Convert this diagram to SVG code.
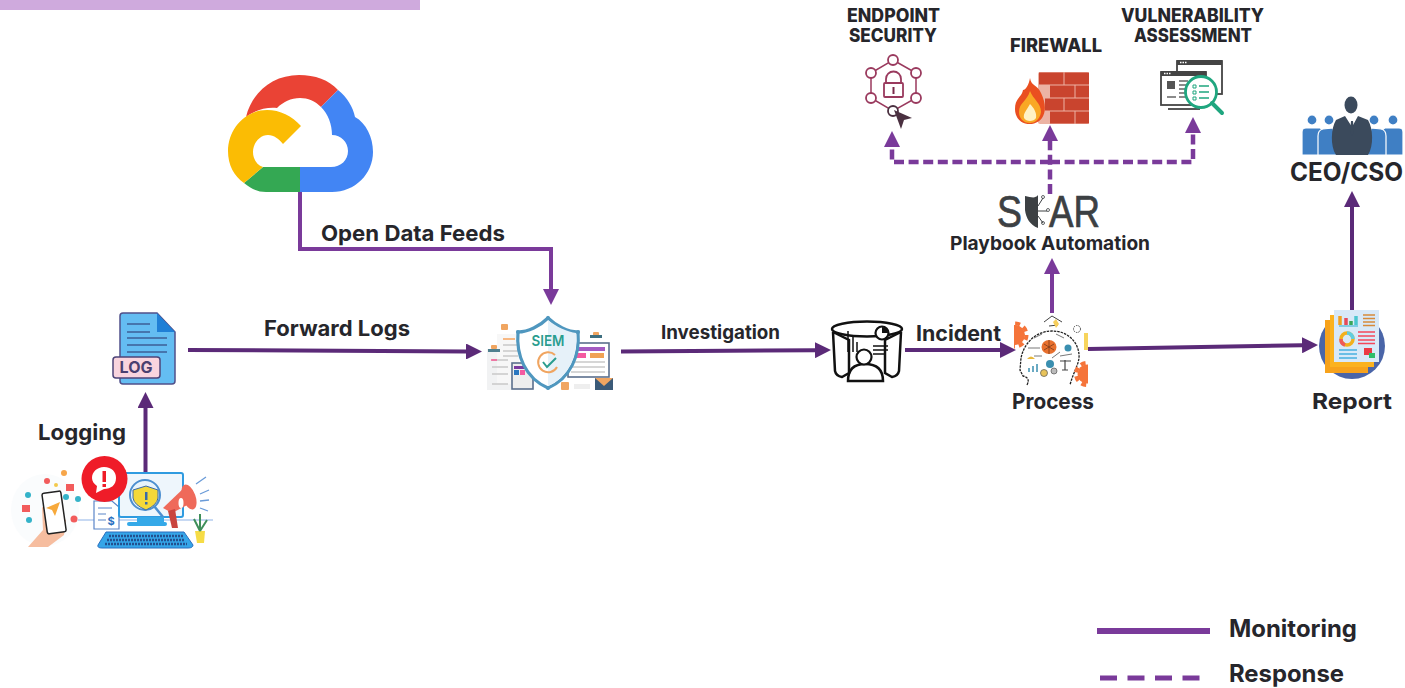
<svg xmlns="http://www.w3.org/2000/svg" width="1405" height="688" viewBox="0 0 1405 688">
<style>
text{font-family:"Inter","Noto Sans","Liberation Sans",sans-serif;font-weight:700;fill:#26262b}
.m{fill:none;stroke:#5b2a78;stroke-width:4}
.p{fill:none;stroke:#7a3a9a;stroke-width:4}
.d{fill:none;stroke:#7a3a9a;stroke-width:4.500;stroke-dasharray:10 4.600}
.blk{fill:none;stroke:#111;stroke-width:2.500}
.gl{stroke:#c9c9c9;stroke-width:1.400;fill:none}
.gear{fill:none;stroke:#f5743a;stroke-width:4;stroke-dasharray:5 4}
.logo{font-family:"Liberation Sans",sans-serif;font-weight:400;fill:#3c4043;stroke:#3c4043;stroke-width:.7}
</style>
<defs>
<marker id="hm" markerUnits="userSpaceOnUse" markerWidth="16" markerHeight="16" viewBox="0 0 15 15" refX="0" refY="7.500" orient="auto"><polygon points="0,0 15,7.500 0,15" fill="#5b2a78"/></marker>
<marker id="hp" markerUnits="userSpaceOnUse" markerWidth="16" markerHeight="16" viewBox="0 0 15 15" refX="0" refY="7.500" orient="auto"><polygon points="0,0 15,7.500 0,15" fill="#7a3a9a"/></marker>
<clipPath id="pc"><rect x="1014" y="310" width="74" height="80"/></clipPath>
</defs>
<rect id="top-bar" x="0" y="0" width="420" height="10" fill="#cfaadd"/>

<g id="connectors">
<path class="m" d="M145.500 473V408" marker-end="url(#hm)"/>
<path class="m" d="M188 350L466 351.500" marker-end="url(#hm)"/>
<path class="p" d="M300 192V249H551V289" marker-end="url(#hp)"/>
<path class="m" d="M621 351.500L815 350.200" marker-end="url(#hm)"/>
<path class="m" d="M905 350H1000" marker-end="url(#hm)"/>
<path class="m" d="M1088 349L1302 345.300" marker-end="url(#hm)"/>
<path class="p" d="M1052 313V274" marker-end="url(#hp)"/>
<path class="m" d="M1352 310V207" marker-end="url(#hm)"/>
<path class="d" d="M1050 194V141" marker-end="url(#hp)"/>
<path class="d" d="M1050 162H892V147" marker-end="url(#hp)"/>
<path class="d" d="M1050 162H1193V133" marker-end="url(#hp)"/>
</g>

<g id="node-cloud">
<path fill="#ea4335" d="M246 117C252 92 273 75 299 75C315 75 329 80 338 90L321 107C315 101 308 98 300 98C291 98 283 102 277 108C266 107 255 110 246 117Z"/>
<path fill="#4285f4" d="M338 90C347 97 353 107 355 117C366 123 373 137 373 152C373 174 355 192 332 192H300V167H331C341 167 348 160 348 151C348 142 341 135 332 135C332 124 328 114 321 107Z"/>
<path fill="#34a853" d="M300 167H263L244 183C251 189 258 192 266 192H300Z"/>
<path fill="#fbbc04" d="M301 126C292 116 280 110 267 110C245 110 228 129 228 151C228 165 234 176 244 183L263 167C257 165 253 159 253 152C253 143 260 135 268 135C274 135 279 139 283 144Z"/>
<text x="321" y="241" font-size="22" textLength="184" lengthAdjust="spacingAndGlyphs">Open Data Feeds</text>
</g>

<g id="node-log">
<path d="M120 316Q120 313 123 313H157L175 332V381Q175 384 172 384H123Q120 384 120 381Z" fill="#64bdf2" stroke="#50508a" stroke-width="1.500"/>
<path d="M157 313L175 332H157Z" fill="#1f7fd6"/>
<path d="M127 324H150M127 332H150M127 338H167M127 345H167M127 352H167" stroke="#3d5f96" stroke-width="1.500"/>
<rect x="113" y="357" width="47" height="21" rx="3" fill="#f9d4de" stroke="#4d4478" stroke-width="1.500"/>
<text x="136" y="373" font-size="16" text-anchor="middle" style="fill:#4a4070">LOG</text>
<text x="264" y="336" font-size="21" textLength="146" lengthAdjust="spacingAndGlyphs">Forward Logs</text>
</g>

<g id="node-logging">
<ellipse cx="45" cy="510" rx="34" ry="36" fill="#fafcfd"/>
<path d="M78 520H213" stroke="#8fb4e8" stroke-width="1.200"/>
<g fill="#f25c5c"><circle cx="47" cy="481" r="3"/><rect x="22" y="505" width="8" height="7"/><circle cx="74" cy="519" r="3.500"/><rect x="66" y="484" width="8" height="7"/></g>
<g fill="#34b3c9"><circle cx="28" cy="495" r="3"/><circle cx="29" cy="520" r="3"/><circle cx="66" cy="497" r="3"/><circle cx="78" cy="499" r="3"/></g>
<circle cx="64" cy="473" r="3" fill="#f7a64a"/><circle cx="56" cy="485" r="2" fill="#f2c94c"/>
<path d="M28 547L43 530L42 507L66 520L64 535L48 547Z" fill="#f6bd9f"/>
<rect x="44.500" y="492" width="19" height="41" rx="2" fill="#fff" stroke="#222" stroke-width="1.500" transform="rotate(-8 54 512)"/>
<path d="M46 508L60 502L55 516L52 510Z" fill="#f7a93b"/>
<path d="M94 501H112L119 507V529H94Z" fill="#fff" stroke="#5b85c8" stroke-width="1.200"/>
<path d="M98 508H112M98 514H106M98 520H106" stroke="#5b85c8" stroke-width="1"/>
<text x="111" y="525" font-size="11" text-anchor="middle" style="fill:#2a6fc0">$</text>
<rect x="119" y="473" width="64" height="44" rx="2" fill="#eef6fc" stroke="#2f9be0" stroke-width="2"/>
<rect x="137" y="517" width="27" height="5" fill="#35a9e8"/><rect x="127" y="522" width="40" height="4" rx="2" fill="#35a9e8"/>
<circle cx="145" cy="495" r="15" fill="#e8f4fc" stroke="#4c8fd0" stroke-width="2"/>
<path d="M154 506L163 517" stroke="#4c8fd0" stroke-width="2.500"/>
<path d="M146 486L158 490V498Q157 505 146 510Q134 505 133 498V490Z" fill="#f4d83a" stroke="#3a6aa8" stroke-width="1"/>
<rect x="145" y="492" width="2.500" height="8" fill="#3a6aa8"/><rect x="145" y="502" width="2.500" height="2.500" fill="#3a6aa8"/>
<path d="M163 508L186 486L193 502L172 513Z" fill="#ef6a5a"/>
<ellipse cx="189" cy="497" rx="6.500" ry="13" transform="rotate(-20 189 497)" fill="#ef6a5a"/>
<ellipse cx="181" cy="503" rx="2.500" ry="5" fill="#fff"/>
<path d="M168 511L172 528H178L175 509Z" fill="#c9453f"/>
<path d="M196 484L206 477M200 494L209 490M200 501L209 500M200 508L208 511" stroke="#6a9bd8" stroke-width="1.300"/>
<path d="M195 531L205 531L204 543H197Z" fill="#f6dc46"/>
<path d="M200 531L194 519M200 531L200 514M200 531L207 520" stroke="#3f8f5a" stroke-width="2"/>
<path d="M106 532H184L193 545Q193 548 188 548H102Q97 548 98 545Z" fill="#35a5e8" stroke="#2a6fc0"/>
<path d="M109 536H183M107 540H185M105 544H187" stroke="#24508f" stroke-width="2.500" stroke-dasharray="2 1"/>
<circle cx="104.500" cy="479" r="23" fill="#ef1c28"/>
<path d="M104 467C112 467 116 472 116 478C116 485 111 489 104 489L96 493L97 486C94 484 92 481 92 478C92 472 97 467 104 467Z" fill="#fff"/>
<rect x="102.500" y="471" width="3.500" height="11" fill="#ef1c28"/><rect x="102.500" y="484" width="3.500" height="3" fill="#ef1c28"/>
<text x="38" y="440" font-size="22" textLength="88" lengthAdjust="spacingAndGlyphs">Logging</text>
</g>

<g id="node-siem">
<rect x="487" y="349" width="24" height="41" fill="#f1f2f3"/>
<rect x="497" y="334" width="22" height="50" fill="#f7f7f7"/>
<path class="gl" d="M492 360H508M492 367H508M492 374H508M492 384H508M503 345H518M503 351H518M503 356H518"/>
<path d="M503 339H515" stroke="#f7a35c" stroke-width="1.500"/><path d="M491 360H497" stroke="#f45a94" stroke-width="1.500"/>
<rect x="488" y="349" width="12" height="3" fill="#4f7f8f"/>
<rect x="501" y="324" width="7" height="6" rx="1" fill="#f0a560"/><rect x="491" y="345" width="6" height="4" rx="1" fill="#f0a560"/><rect x="593" y="332" width="6" height="5" rx="1" fill="#f0a560"/><rect x="590" y="335" width="12" height="3" fill="#3e6f80"/>
<rect x="568" y="343" width="41" height="34" fill="#fff" stroke="#5a6f8c" stroke-width="1.600"/>
<rect x="571" y="347" width="34" height="4" fill="#a35ac2"/><rect x="571" y="353" width="15" height="5" fill="#f45aa0"/><rect x="590" y="353" width="14" height="5" fill="#f0a255"/>
<path class="gl" d="M571 362H605M571 367H605M571 372H605"/>
<rect x="512" y="363" width="21" height="26" fill="#eee" stroke="#5a6f8c" stroke-width="1.600"/>
<rect x="514" y="366" width="16" height="3" fill="#7a3aa0"/><rect x="514" y="370" width="5" height="5" fill="#2a77c0"/><rect x="520" y="370" width="5" height="5" fill="#f45aa0"/>
<path d="M548 318C540 326 528 332 518 332C516 355 525 378 548 388C571 378 580 355 578 332C568 332 556 326 548 318Z" fill="#fff" stroke="#4f97bf" stroke-width="3.200"/>
<path d="M548 320C556 327 568 332 576 333C578 355 569 377 548 386Z" fill="#e6f1f9"/>
<g fill="#4f97bf"><circle cx="548" cy="318" r="2"/><circle cx="518" cy="332" r="2"/><circle cx="578" cy="332" r="2"/><circle cx="548" cy="388" r="2"/></g>
<text x="548" y="346" font-size="15" text-anchor="middle" textLength="33" lengthAdjust="spacingAndGlyphs" style="fill:#2a9d8f;font-weight:600">SIEM</text>
<path d="M555 355A10 10 0 1 0 557 367" fill="none" stroke="#f0a561" stroke-width="2"/>
<path d="M543 362L547 367L556 358" fill="none" stroke="#2a9d8f" stroke-width="2"/>
<rect x="561" y="382" width="8" height="8" rx="1" fill="#f0a561"/>
<rect x="574" y="384" width="16" height="5" fill="#eee"/>
<rect x="595" y="378" width="18" height="12" fill="#3b5a78"/><path d="M595 378H613L604 386Z" fill="#f0a561"/>
<text x="661" y="339" font-size="19" textLength="119" lengthAdjust="spacingAndGlyphs">Investigation</text>
</g>

<g id="node-investigation">
<ellipse cx="867" cy="329" rx="35" ry="7.500" class="blk"/>
<path class="blk" d="M833 332L835 371Q836 376 842 377L849 373V340L833 332M901 332L899 371Q898 376 892 377L885 373V340L901 332"/>
<path class="blk" d="M848 381C848 368 856 364 865 364C875 364 883 368 883 381Z"/>
<circle cx="864" cy="357" r="7.500" fill="#fff" stroke="#111" stroke-width="2.200"/>
<circle cx="882" cy="333" r="6.500" fill="#fff" stroke="#111" stroke-width="2.200"/>
<path d="M882 333V327A6 6 0 0 1 888 333Z" fill="#111"/>
<path d="M848 331V352M853 335V352M857 342V352M873 346H888M873 350H888M873 354H884" stroke="#111" stroke-width="1.500"/>
<text x="916" y="341" font-size="21" textLength="85" lengthAdjust="spacingAndGlyphs">Incident</text>
</g>

<g id="node-process">
<path d="M1027 385C1030 379 1027 377 1023 376L1020 370L1021 358C1024 343 1036 331 1052 331C1070 331 1080 345 1079 358C1078 366 1073 373 1070 385" fill="none" stroke="#222" stroke-width="1.300" stroke-dasharray="2.500 1"/>
<path d="M1044 322L1052 316L1062 322M1049 326L1058 325" stroke="#444" stroke-width="1" fill="none"/>
<path d="M1053 322L1056 319L1059 324L1056 328Z" fill="#f7cf5c"/>
<circle cx="1077" cy="329" r="3.500" fill="none" stroke="#444" stroke-width="1" stroke-dasharray="1.500 1"/>
<path d="M1084 333H1088V350H1084Z" fill="#f7d45c"/>
<g clip-path="url(#pc)">
<circle cx="1015" cy="335" r="10" fill="#f5743a"/><circle class="gear" cx="1015" cy="335" r="11.500"/>
<circle cx="1087" cy="374" r="9.500" fill="#f5743a"/><circle class="gear" cx="1087" cy="374" r="11"/>
</g>
<path d="M1034 338L1042 334M1056 334L1064 338M1028 348H1040M1060 356L1072 354M1034 356H1042M1052 358L1060 352" stroke="#555" stroke-width="0.800"/>
<ellipse cx="1049" cy="347" rx="7.500" ry="7" fill="#e8702e"/>
<path d="M1049 340V354M1044 344L1054 350M1044 350L1054 344" stroke="#7a3a1a" stroke-width="0.800"/>
<circle cx="1068" cy="348" r="3.500" fill="#3a8fb0"/>
<circle cx="1050" cy="364" r="4" fill="#3a8fb0"/>
<path d="M1027 359Q1031 354 1035 359Z" fill="#e8b83a"/>
<path d="M1029 372V368M1033 372V366M1037 372V364" stroke="#3a8fb0" stroke-width="1.500"/>
<circle cx="1044" cy="373" r="3.500" fill="#e8c35a" stroke="#555" stroke-width="0.700"/><circle cx="1054" cy="371" r="3" fill="#bbb" stroke="#555" stroke-width="0.700"/>
<path d="M1060 361H1071M1065 360V370M1062 370H1068" stroke="#444" stroke-width="1.200"/>
<text x="1012" y="409" font-size="22" textLength="82" lengthAdjust="spacingAndGlyphs">Process</text>
</g>

<g id="node-report">
<circle cx="1352" cy="346" r="33" fill="#4a65a8"/>
<rect x="1325" y="320" width="43" height="53" fill="#f7a21b"/>
<rect x="1330" y="315" width="44" height="52" fill="#fbb21f"/>
<rect x="1334" y="310" width="45" height="52" fill="#d8e9f8"/>
<path d="M1340 316V325" stroke-width="3.500" stroke="#f0a021"/>
<path d="M1346 318V325" stroke="#e64a5a" stroke-width="3.500"/><path d="M1356 316V325" stroke="#4cc6d0" stroke-width="3.500"/><path d="M1351 321V325" stroke="#3aa55a" stroke-width="3.500"/>
<path d="M1339 326H1358" stroke="#4cb8d8" stroke-width="1.200"/>
<path d="M1363 315H1375M1363 318.500H1375M1363 322H1375M1363 325.500H1375" stroke="#d68a3a" stroke-width="1.500"/>
<circle cx="1347" cy="339" r="6" fill="none" stroke="#f2b01e" stroke-width="3.500"/>
<path d="M1347 333A6 6 0 0 1 1353 339" fill="none" stroke="#5fcde0" stroke-width="3.500"/>
<path d="M1341 339A6 6 0 0 0 1345 345" fill="none" stroke="#ee5a5a" stroke-width="3.500"/>
<path d="M1358 332H1375M1358 336H1375M1358 340H1375M1358 343.500H1375" stroke="#f4475a" stroke-width="1.500"/>
<path d="M1339 350H1357M1339 354H1357M1339 358H1357" stroke="#45b0e0" stroke-width="1.500"/>
<rect x="1364" y="348" width="8" height="7" fill="#ec3a44"/><rect x="1369" y="353" width="6" height="5" fill="#2ebd6a"/>
<text x="1312" y="409" font-size="22" textLength="80" lengthAdjust="spacingAndGlyphs">Report</text>
</g>

<g id="node-ceo">
<g fill="#3f7fc4" stroke="#fff" stroke-width="1.200">
<circle cx="1312" cy="120" r="5"/><path d="M1302 132Q1302 128 1306 128H1320Q1323 129 1323 134V155H1302Z"/>
<circle cx="1393" cy="120" r="5"/><path d="M1382 134Q1382 129 1385 128H1399Q1403 128 1403 132V155H1382Z"/>
<circle cx="1329" cy="120" r="5"/><path d="M1318 155V136Q1318 130 1323 129L1333 128L1338 155Z"/>
<circle cx="1374" cy="120" r="5"/><path d="M1366 155L1371 128L1381 129Q1386 130 1386 136V155Z"/>
</g>
<ellipse cx="1351" cy="105" rx="6.500" ry="8.500" fill="#3b4a5c"/>
<path d="M1345 116L1336 120C1331 128 1330 146 1336 155H1368C1374 146 1373 128 1368 120L1358 116L1352 127Z" fill="#3b4a5c"/>
<path d="M1348 117L1352 127L1356 117Z" fill="#fff"/><path d="M1351 121H1353L1354 132L1352 136L1350 132Z" fill="#3b4a5c"/>
<text x="1290" y="181" font-size="25" textLength="113" lengthAdjust="spacingAndGlyphs">CEO/CSO</text>
</g>

<g id="node-soar">
<text class="logo" x="997" y="227" font-size="44" textLength="25" lengthAdjust="spacingAndGlyphs" style="font-family:'Liberation Sans',sans-serif;font-weight:400;fill:#3c4043">S</text>
<path d="M1025 196C1031 197 1035 199 1038 195V228C1030 225 1026 218 1025 210Z" fill="#3c4043"/>
<path d="M1038 206L1043 198M1038 211H1047M1038 216L1043 223" stroke="#3c4043" stroke-width="1" fill="none"/>
<g fill="none" stroke="#3c4043" stroke-width="0.800"><circle cx="1043" cy="197" r="1.500"/><circle cx="1048" cy="210" r="1.500"/><circle cx="1043" cy="223" r="1.500"/></g>
<text class="logo" x="1049" y="227" font-size="44" textLength="51" lengthAdjust="spacingAndGlyphs" style="font-family:'Liberation Sans',sans-serif;font-weight:400;fill:#3c4043">AR</text>
<text x="950" y="250" font-size="19" textLength="200" lengthAdjust="spacingAndGlyphs">Playbook Automation</text>
</g>

<g id="node-endpoint">
<path d="M893 60L916 73V98L893 111L871 98V73Z" fill="none" stroke="#9a3a5e" stroke-width="1.500"/>
<g fill="#fff" stroke="#9a3a5e" stroke-width="1.800"><circle cx="893" cy="60" r="5"/><circle cx="916" cy="73" r="5"/><circle cx="916" cy="98" r="5"/><circle cx="871" cy="98" r="5"/><circle cx="871" cy="73" r="5"/></g>
<circle cx="893" cy="111" r="5" fill="#fff" stroke="#4a3040" stroke-width="1.800"/>
<path d="M886 83V79A7.500 7.500 0 0 1 901 79V83" fill="none" stroke="#9a3a5e" stroke-width="1.800"/>
<rect x="884" y="83" width="19" height="14" rx="1" fill="#fff" stroke="#9a3a5e" stroke-width="1.800"/>
<rect x="892.500" y="87" width="2" height="7" fill="#7a2a4a"/>
<path d="M894 110L912 118L904 120L901 129Z" fill="#4a3040"/>
<text x="847" y="22" font-size="18.500" textLength="93" lengthAdjust="spacingAndGlyphs" style="font-weight:800">ENDPOINT</text>
<text x="849" y="42" font-size="18.500" textLength="88" lengthAdjust="spacingAndGlyphs" style="font-weight:800">SECURITY</text>
</g>

<g id="node-firewall">
<rect x="1038" y="72" width="51" height="52" rx="2" fill="#ecb3a4"/>
<g fill="#c9442e">
<rect x="1039" y="72.500" width="24.500" height="12"/><rect x="1064.500" y="72.500" width="24.500" height="12"/>
<rect x="1050" y="85.500" width="24.500" height="12"/><rect x="1075.500" y="85.500" width="13.500" height="12"/>
<rect x="1045" y="98.500" width="18.500" height="12"/><rect x="1064.500" y="98.500" width="24.500" height="12"/>
<rect x="1050" y="111.500" width="24.500" height="12"/><rect x="1075.500" y="111.500" width="13.500" height="12"/>
</g>
<path d="M1030 78C1031 86 1037 84 1041 93C1046 103 1046 112 1042 118C1039 122 1034 124 1030 124C1021 124 1015 118 1015 109C1015 98 1022 97 1023 90C1026 90 1029 84 1030 78Z" fill="#ea4f20"/>
<path d="M1030 91C1033 99 1041 103 1041 112C1040 120 1034 123 1030 123C1023 123 1019 118 1019 112C1019 103 1027 101 1030 91Z" fill="#f9a825"/>
<path d="M1030 104C1034 108 1037 113 1036 118C1034 122 1026 122 1024 118C1023 113 1027 110 1030 104Z" fill="#fff2c4"/>
<text x="1010" y="52" font-size="18.500" textLength="92" lengthAdjust="spacingAndGlyphs" style="font-weight:800">FIREWALL</text>
</g>

<g id="node-vuln">
<rect x="1177" y="61" width="45" height="33" fill="#fff" stroke="#444" stroke-width="1.800"/><rect x="1177" y="60" width="45" height="5" fill="#444"/>
<rect x="1161" y="72" width="45" height="33" fill="#fff" stroke="#444" stroke-width="1.800"/><rect x="1161" y="71" width="45" height="5" fill="#444"/>
<path d="M1180 62.500h7M1164 73.500h7" stroke="#fff" stroke-width="1.500" stroke-dasharray="1.500 1"/>
<rect x="1167" y="81" width="8" height="8" fill="#555"/>
<path d="M1179 81H1188M1179 85H1188M1179 89H1188M1179 93H1188M1179 97H1188M1167 97H1176" stroke="#666" stroke-width="1.500"/>
<path d="M1168 109H1200" stroke="#444" stroke-width="1.800"/>
<circle cx="1201" cy="92" r="15.500" fill="#fff" stroke="#1fa67f" stroke-width="2.800"/>
<path d="M1212 103L1222 113" stroke="#1fa67f" stroke-width="4" stroke-linecap="round"/>
<path d="M1199 86H1209M1199 92H1209M1199 98H1209" stroke="#1fa67f" stroke-width="1.500"/>
<path d="M1193 85h3v3h-3zM1193 91h3v3h-3zM1193 97h3v3h-3z" fill="none" stroke="#1fa67f"/>
<text x="1121" y="22" font-size="18.500" textLength="143" lengthAdjust="spacingAndGlyphs" style="font-weight:800">VULNERABILITY</text>
<text x="1134" y="42" font-size="18.500" textLength="118" lengthAdjust="spacingAndGlyphs" style="font-weight:800">ASSESSMENT</text>
</g>

<g id="legend">
<path d="M1097 631H1210" stroke="#7a3a9a" stroke-width="6" fill="none"/>
<path d="M1100 678H1205" stroke="#7a3a9a" stroke-width="5" stroke-dasharray="17 10.500" fill="none"/>
<text x="1229" y="637" font-size="24" textLength="128" lengthAdjust="spacingAndGlyphs">Monitoring</text>
<text x="1229" y="682" font-size="24" textLength="115" lengthAdjust="spacingAndGlyphs">Response</text>
</g>
</svg>
